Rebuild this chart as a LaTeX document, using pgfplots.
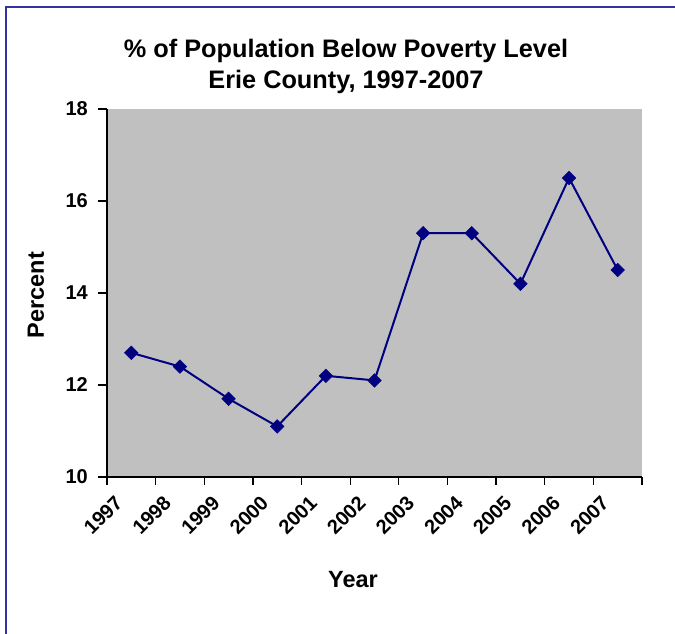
\documentclass[border=0pt]{standalone}
\usepackage{pgfplots}
\pgfplotsset{compat=1.18}
\usepackage{fontspec}
\setmainfont{Liberation Sans}

\definecolor{framecol}{RGB}{51,51,160}
\definecolor{plotbg}{RGB}{192,192,192}
\definecolor{series}{RGB}{0,0,128}

\begin{document}
\begin{tikzpicture}[x=1pt,y=1pt]
\useasboundingbox (0,0) rectangle (675,634);
% chart area border (left and top edges)
\draw[framecol, line width=2pt] (6,0) -- (6,627) -- (676,627);

% title
\node[anchor=base, font=\fontsize{25.3}{30}\selectfont\bfseries] at (346,576) {\% of Population Below Poverty Level};
\node[anchor=base, font=\fontsize{25.3}{30}\selectfont\bfseries] at (346,545) {Erie County, 1997-2007};

% axis titles
\node[rotate=90, font=\fontsize{23.5}{27}\selectfont\bfseries] at (36,339) {Percent};
\node[font=\fontsize{23.5}{27}\selectfont\bfseries] at (353,54) {Year};

\begin{axis}[
  at={(107pt,157pt)}, anchor=south west,
  scale only axis, width=535pt, height=368pt,
  xmin=-0.5, xmax=10.5, ymin=10, ymax=18,
  axis background/.style={fill=plotbg},
  axis line style={black, line width=1.5pt},
  axis x line*=bottom, axis y line*=left,
  xtick={0,...,10},
  xticklabels={1997,1998,1999,2000,2001,2002,2003,2004,2005,2006,2007},
  minor xtick={-0.5,0.5,...,10.5},
  ytick={10,12,14,16,18},
  major x tick style={draw=none},
  tick align=outside,
  major tick length=9pt, minor tick length=8pt,
  every tick/.style={black, line width=1.3pt},
  ticklabel style={font=\fontsize{20}{22}\selectfont\bfseries},
  /pgf/number format/assume math mode=true,
  xticklabel style={xshift=-10pt, yshift=-11pt, rotate=45, anchor=east},
  yticklabel style={inner sep=0pt},
  yticklabel shift=10pt,
  clip=false,
]
\addplot[series, line width=2pt, mark=square*, mark size=4.8pt,
  mark options={rotate=45, solid, fill=series, draw=series, line width=0.5pt}]
  coordinates {
  (0,12.7) (1,12.4) (2,11.7) (3,11.1) (4,12.2) (5,12.1)
  (6,15.3) (7,15.3) (8,14.2) (9,16.5) (10,14.5)
  };
\end{axis}
\end{tikzpicture}
\end{document}
